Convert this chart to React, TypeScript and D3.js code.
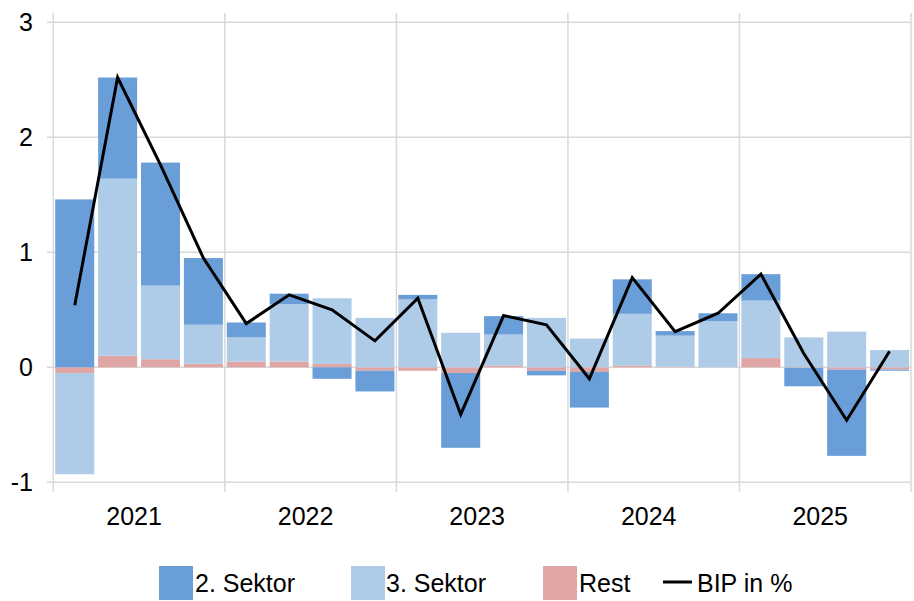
import React from "react";
import * as d3 from "d3";

const quarters = [
  "2021Q1", "2021Q2", "2021Q3", "2021Q4",
  "2022Q1", "2022Q2", "2022Q3", "2022Q4",
  "2023Q1", "2023Q2", "2023Q3", "2023Q4",
  "2024Q1", "2024Q2", "2024Q3", "2024Q4",
  "2025Q1", "2025Q2", "2025Q3", "2025Q4",
];
const years = ["2021", "2022", "2023", "2024", "2025"];
const sektor2 = [1.46, 0.88, 1.07, 0.58, 0.13, 0.09, -0.1, -0.18, 0.04, -0.65, 0.16, -0.04, -0.31, 0.3, 0.04, 0.07, 0.23, -0.16, -0.75, -0.01];
const sektor3 = [-0.88, 1.54, 0.64, 0.34, 0.21, 0.5, 0.57, 0.43, 0.59, 0.3, 0.27, 0.43, 0.25, 0.45, 0.27, 0.4, 0.5, 0.26, 0.31, 0.15];
const rest = [-0.05, 0.1, 0.07, 0.03, 0.05, 0.05, 0.03, -0.03, -0.03, -0.05, 0.015, -0.03, -0.04, 0.015, 0.005, 0.0, 0.08, -0.005, -0.02, -0.02];
const bip = [0.54, 2.52, 1.76, 0.95, 0.38, 0.63, 0.5, 0.23, 0.6, -0.41, 0.45, 0.37, -0.1, 0.78, 0.31, 0.47, 0.81, 0.12, -0.46, 0.14];
const yTicks = [3, 2, 1, 0, -1];

const seriesNames = ["Rest", "3. Sektor", "2. Sektor"];
const colors: Record<string, string> = {
  "2. Sektor": "#6A9ED9",
  "3. Sektor": "#AECCE8",
  Rest: "#E0A5A5",
};

const W = 914;
const H = 601;
const left = 53.3;
const right = 911;
const FONT = "Liberation Sans, Arial, sans-serif";

export default function App() {
  const x = d3.scaleBand<number>()
    .domain(quarters.map((_, i) => i))
    .range([left, right])
    .paddingInner(0.09)
    .paddingOuter(0.045);
  const step = (right - left) / quarters.length;
  const y = d3.scaleLinear().domain([-1, 3]).range([482.3, 22.3]);

  const rows = quarters.map((q, i) => ({
    q,
    i,
    "2. Sektor": sektor2[i],
    "3. Sektor": sektor3[i],
    Rest: rest[i],
  }));
  const stack = d3.stack<any>().keys(seriesNames).offset(d3.stackOffsetDiverging);
  const layers = stack(rows);

  const line = d3.line<number>()
    .x((_, i) => (x(i) as number) + x.bandwidth() / 2)
    .y((d) => y(d));

  const yearW = step * 4;
  const grid = "#D9D9D9";

  const legendItems = [
    { name: "2. Sektor", sx: 159, tx: 195 },
    { name: "3. Sektor", sx: 351, tx: 386 },
    { name: "Rest", sx: 543, tx: 579 },
  ];

  return (
    <div style={{ position: "absolute", left: 0, top: 0 }}>
      <svg width={W} height={H} style={{ display: "block", background: "#fff" }}>
        {/* horizontal gridlines */}
        {yTicks.map((t) => (
          <g key={t}>
            <line x1={47} x2={right} y1={y(t)} y2={y(t)} stroke={grid} strokeWidth={1.5} />
            <text x={33} y={y(t)} dy="0.35em" textAnchor="end" fontFamily={FONT} fontSize={25} fill="#000">
              {t}
            </text>
          </g>
        ))}
        {/* vertical gridlines at year boundaries */}
        {d3.range(years.length + 1).map((k) => (
          <line key={k} x1={left + k * yearW} x2={left + k * yearW} y1={13} y2={492} stroke={grid} strokeWidth={1.5} />
        ))}
        {/* bars */}
        {layers.map((layer) => (
          <g key={layer.key} fill={colors[layer.key]}>
            {layer.map((d, i) => {
              const y0 = y(d[0]);
              const y1 = y(d[1]);
              return (
                <rect
                  key={i}
                  x={x(i)}
                  width={x.bandwidth()}
                  y={Math.min(y0, y1)}
                  height={Math.abs(y0 - y1)}
                />
              );
            })}
          </g>
        ))}
        {/* BIP line */}
        <path d={line(bip) || ""} fill="none" stroke="#000" strokeWidth={3} strokeLinejoin="miter" />
        {/* year labels */}
        {years.map((yr, k) => (
          <text key={yr} x={left + k * yearW + yearW / 2 - 5} y={525} textAnchor="middle" fontFamily={FONT} fontSize={25} fill="#000">
            {yr}
          </text>
        ))}
        {/* legend */}
        {legendItems.map((it) => (
          <g key={it.name}>
            <rect x={it.sx} y={566} width={34} height={34} fill={colors[it.name]} />
            <text x={it.tx} y={592} fontFamily={FONT} fontSize={25} fill="#000">
              {it.name}
            </text>
          </g>
        ))}
        <line x1={663} x2={692} y1={582} y2={582} stroke="#000" strokeWidth={3} />
        <text x={697} y={592} fontFamily={FONT} fontSize={25} fill="#000">
          BIP in %
        </text>
      </svg>
    </div>
  );
}
